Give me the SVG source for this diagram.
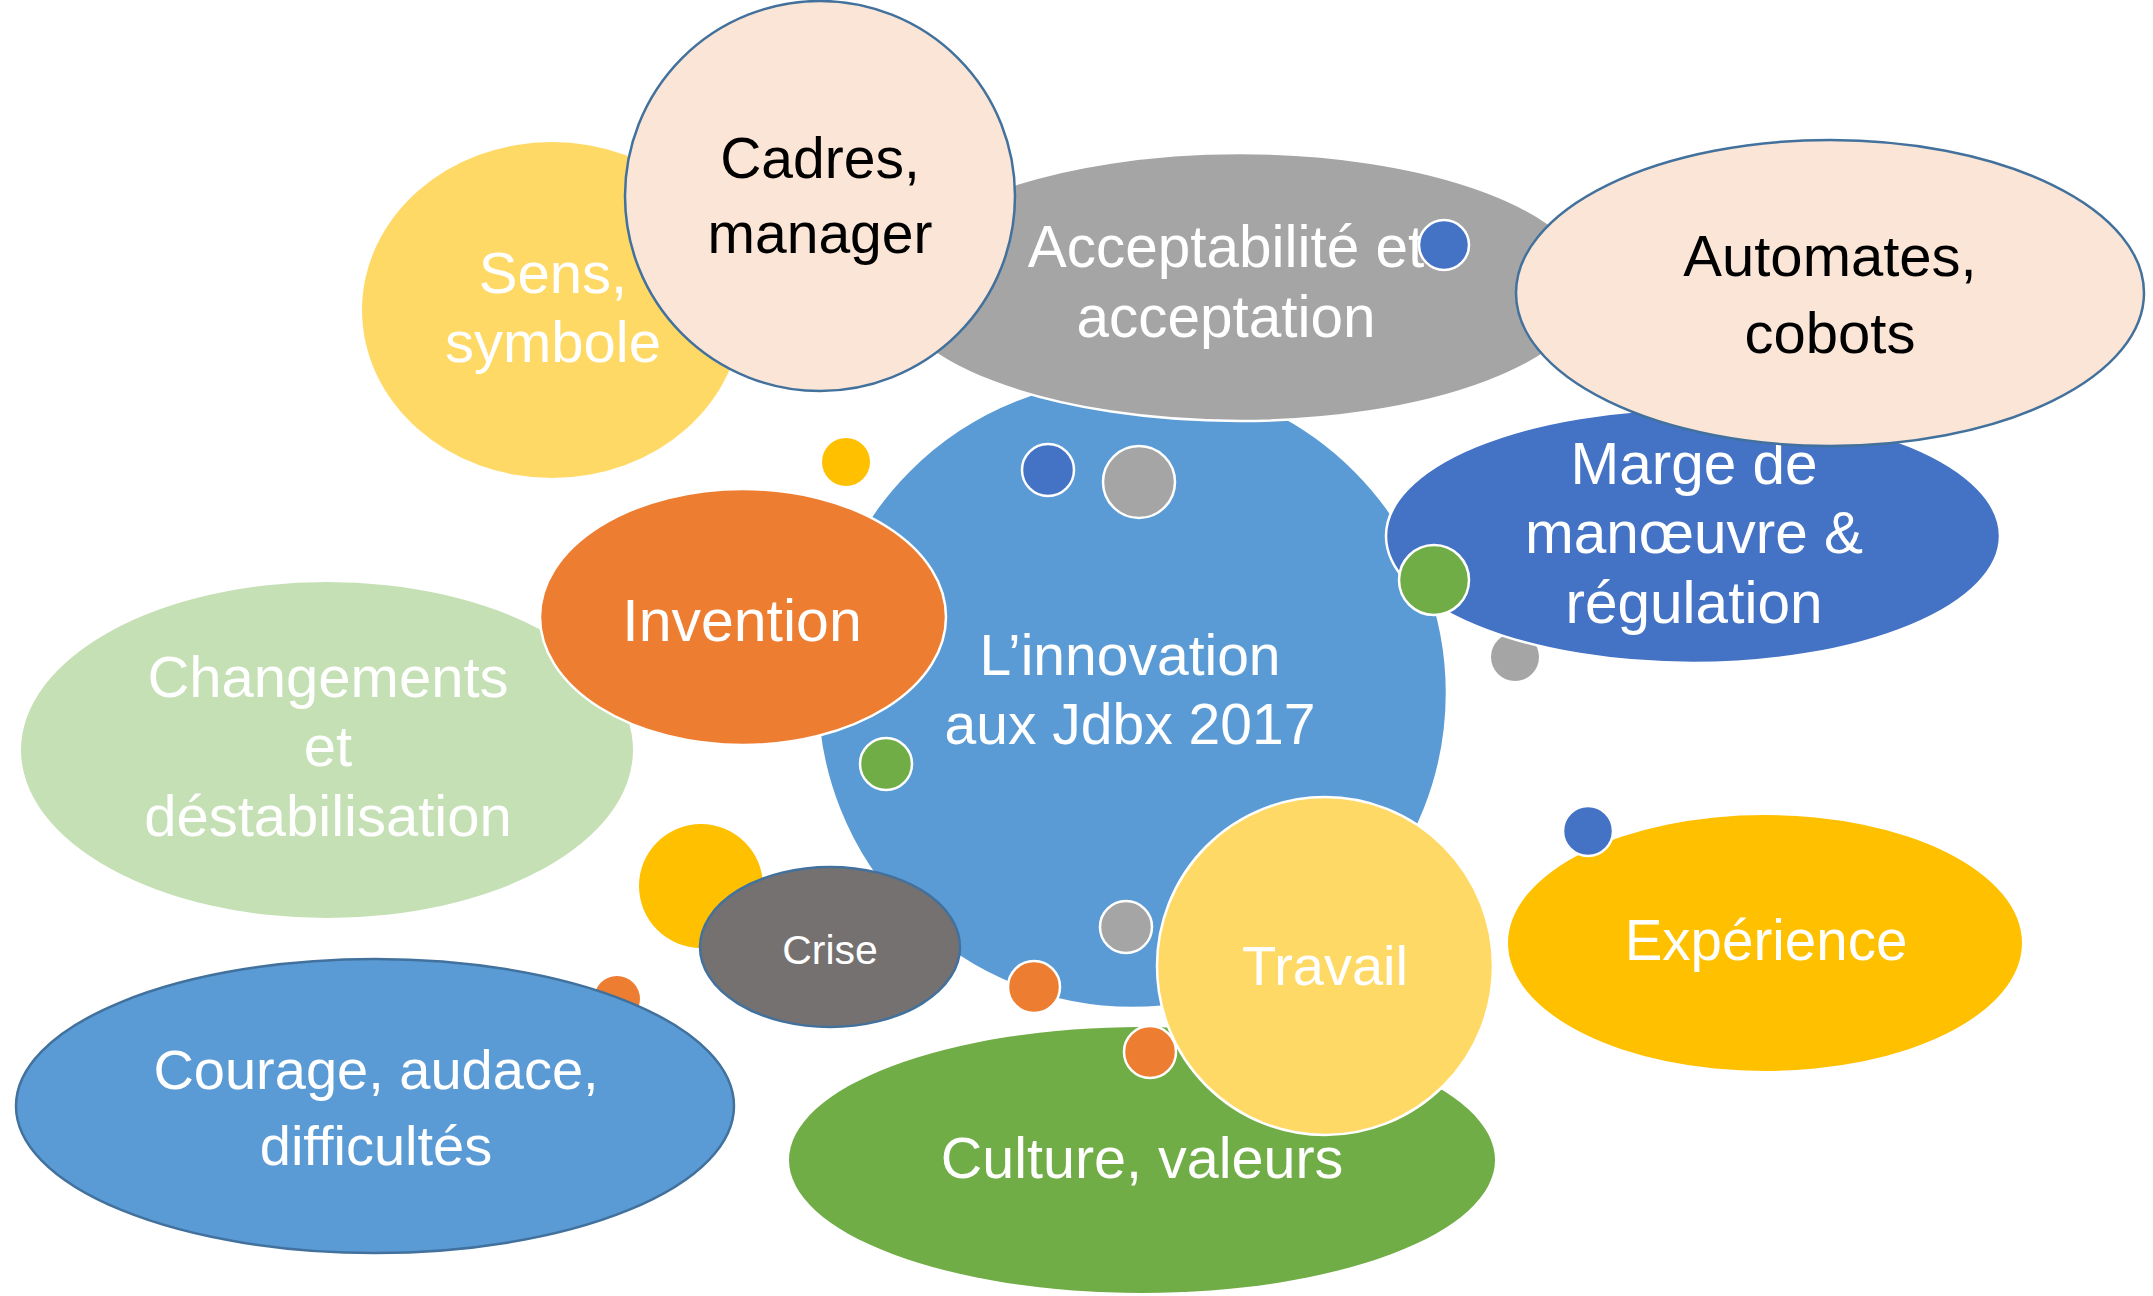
<svg xmlns="http://www.w3.org/2000/svg" width="2153" height="1296" viewBox="0 0 2153 1296">
<style>
.t{font-family:"Liberation Sans",Arial,sans-serif;text-anchor:middle;fill:#FFFFFF;font-size:58px}
.dk{fill:#000000}
.ws{stroke:#FFFFFF;stroke-width:2.5}
.bs{stroke:#41719C;stroke-width:2.5}
</style>
<rect width="2153" height="1296" fill="#FFFFFF"/>
<g id="connectors"></g>
<g id="changements">
<ellipse cx="327" cy="750" rx="306" ry="168" fill="#C5E0B4"/>
<text class="t" x="328" y="697">Changements</text>
<text class="t" x="328" y="766">et</text>
<text class="t" x="328" y="836">déstabilisation</text>
</g>
<g id="sens">
<ellipse cx="552" cy="310" rx="190" ry="168" fill="#FFD966"/>
<text class="t" x="553" y="293">Sens,</text>
<text class="t" x="553" y="362">symbole</text>
</g>
<g id="innovation">
<circle cx="1132" cy="693" r="315" fill="#5B9BD5" class="ws"/>
<text class="t" x="1130" y="675" style="font-size:57px">L’innovation</text>
<text class="t" x="1130" y="744" style="font-size:57px">aux Jdbx 2017</text>
</g>
<g id="acceptabilite">
<ellipse cx="1240" cy="287" rx="350" ry="134" fill="#A5A5A5" class="ws"/>
<text class="t" x="1226" y="267" style="font-size:58.5px">Acceptabilité et</text>
<text class="t" x="1226" y="337" style="font-size:58.5px">acceptation</text>
</g>
<g id="dot-blue-1"><circle cx="1444" cy="245" r="25" fill="#4472C4" class="ws"/></g>
<g id="cadres">
<circle cx="820" cy="196" r="195" fill="#FBE5D6" class="bs"/>
<text class="t dk" x="820" y="178" style="font-size:57px">Cadres,</text>
<text class="t dk" x="820" y="253" style="font-size:57px">manager</text>
</g>
<g id="dot-gray-1"><circle cx="1515" cy="657" r="24" fill="#A5A5A5"/></g>
<g id="marge">
<ellipse cx="1693" cy="536" rx="307" ry="127" fill="#4472C4" class="ws"/>
<text class="t" x="1694" y="484" style="font-size:58.5px">Marge de</text>
<text class="t" x="1694" y="553" style="font-size:58.5px">manœuvre &amp;</text>
<text class="t" x="1694" y="623" style="font-size:58.5px">régulation</text>
</g>
<g id="automates">
<ellipse cx="1830" cy="293" rx="314" ry="153" fill="#FBE5D6" class="bs"/>
<text class="t dk" x="1830" y="276">Automates,</text>
<text class="t dk" x="1830" y="353">cobots</text>
</g>
<g id="invention">
<ellipse cx="743" cy="617" rx="203" ry="128" fill="#ED7D31" class="ws"/>
<text class="t" x="742" y="641" style="font-size:59px">Invention</text>
</g>
<g id="dot-blue-2"><circle cx="1048" cy="470" r="26" fill="#4472C4" class="ws"/></g>
<g id="dot-gray-2"><circle cx="1139" cy="482" r="36" fill="#A5A5A5" class="ws"/></g>
<g id="dot-green-1"><circle cx="886" cy="764" r="26" fill="#70AD47" class="ws"/></g>
<g id="dot-yellow-1"><circle cx="846" cy="462" r="24" fill="#FFC000"/></g>
<g id="dot-green-2"><circle cx="1434" cy="580" r="35" fill="#70AD47" class="ws"/></g>
<g id="dot-yellow-2"><circle cx="701" cy="886" r="62" fill="#FFC000"/></g>
<g id="crise">
<ellipse cx="830" cy="947" rx="130" ry="80" fill="#767171" class="bs"/>
<text class="t" x="830" y="964" style="font-size:41px">Crise</text>
</g>
<g id="dot-orange-1"><circle cx="1034" cy="987" r="26" fill="#ED7D31" class="ws"/></g>
<g id="dot-gray-3"><circle cx="1126" cy="927" r="26" fill="#A5A5A5" class="ws"/></g>
<g id="dot-orange-2"><circle cx="617" cy="999" r="23" fill="#ED7D31"/></g>
<g id="courage">
<ellipse cx="375" cy="1106" rx="359" ry="147" fill="#5B9BD5" class="bs"/>
<text class="t" x="376" y="1089" style="font-size:56px">Courage, audace,</text>
<text class="t" x="376" y="1165" style="font-size:56px">difficultés</text>
</g>
<g id="culture">
<ellipse cx="1142" cy="1160" rx="353" ry="133" fill="#70AD47"/>
<text class="t" x="1142" y="1178" style="font-size:57.5px">Culture, valeurs</text>
</g>
<g id="dot-orange-3"><circle cx="1150" cy="1052" r="26" fill="#ED7D31" class="ws"/></g>
<g id="travail">
<ellipse cx="1325" cy="966" rx="168" ry="169" fill="#FFD966" class="ws"/>
<text class="t" x="1325" y="985" style="font-size:56px">Travail</text>
</g>
<g id="experience">
<ellipse cx="1765" cy="943" rx="257" ry="128" fill="#FFC000"/>
<text class="t" x="1766" y="960" style="font-size:56.5px">Expérience</text>
</g>
<g id="dot-blue-3"><circle cx="1588" cy="831" r="25" fill="#4472C4" class="ws"/></g>
</svg>
